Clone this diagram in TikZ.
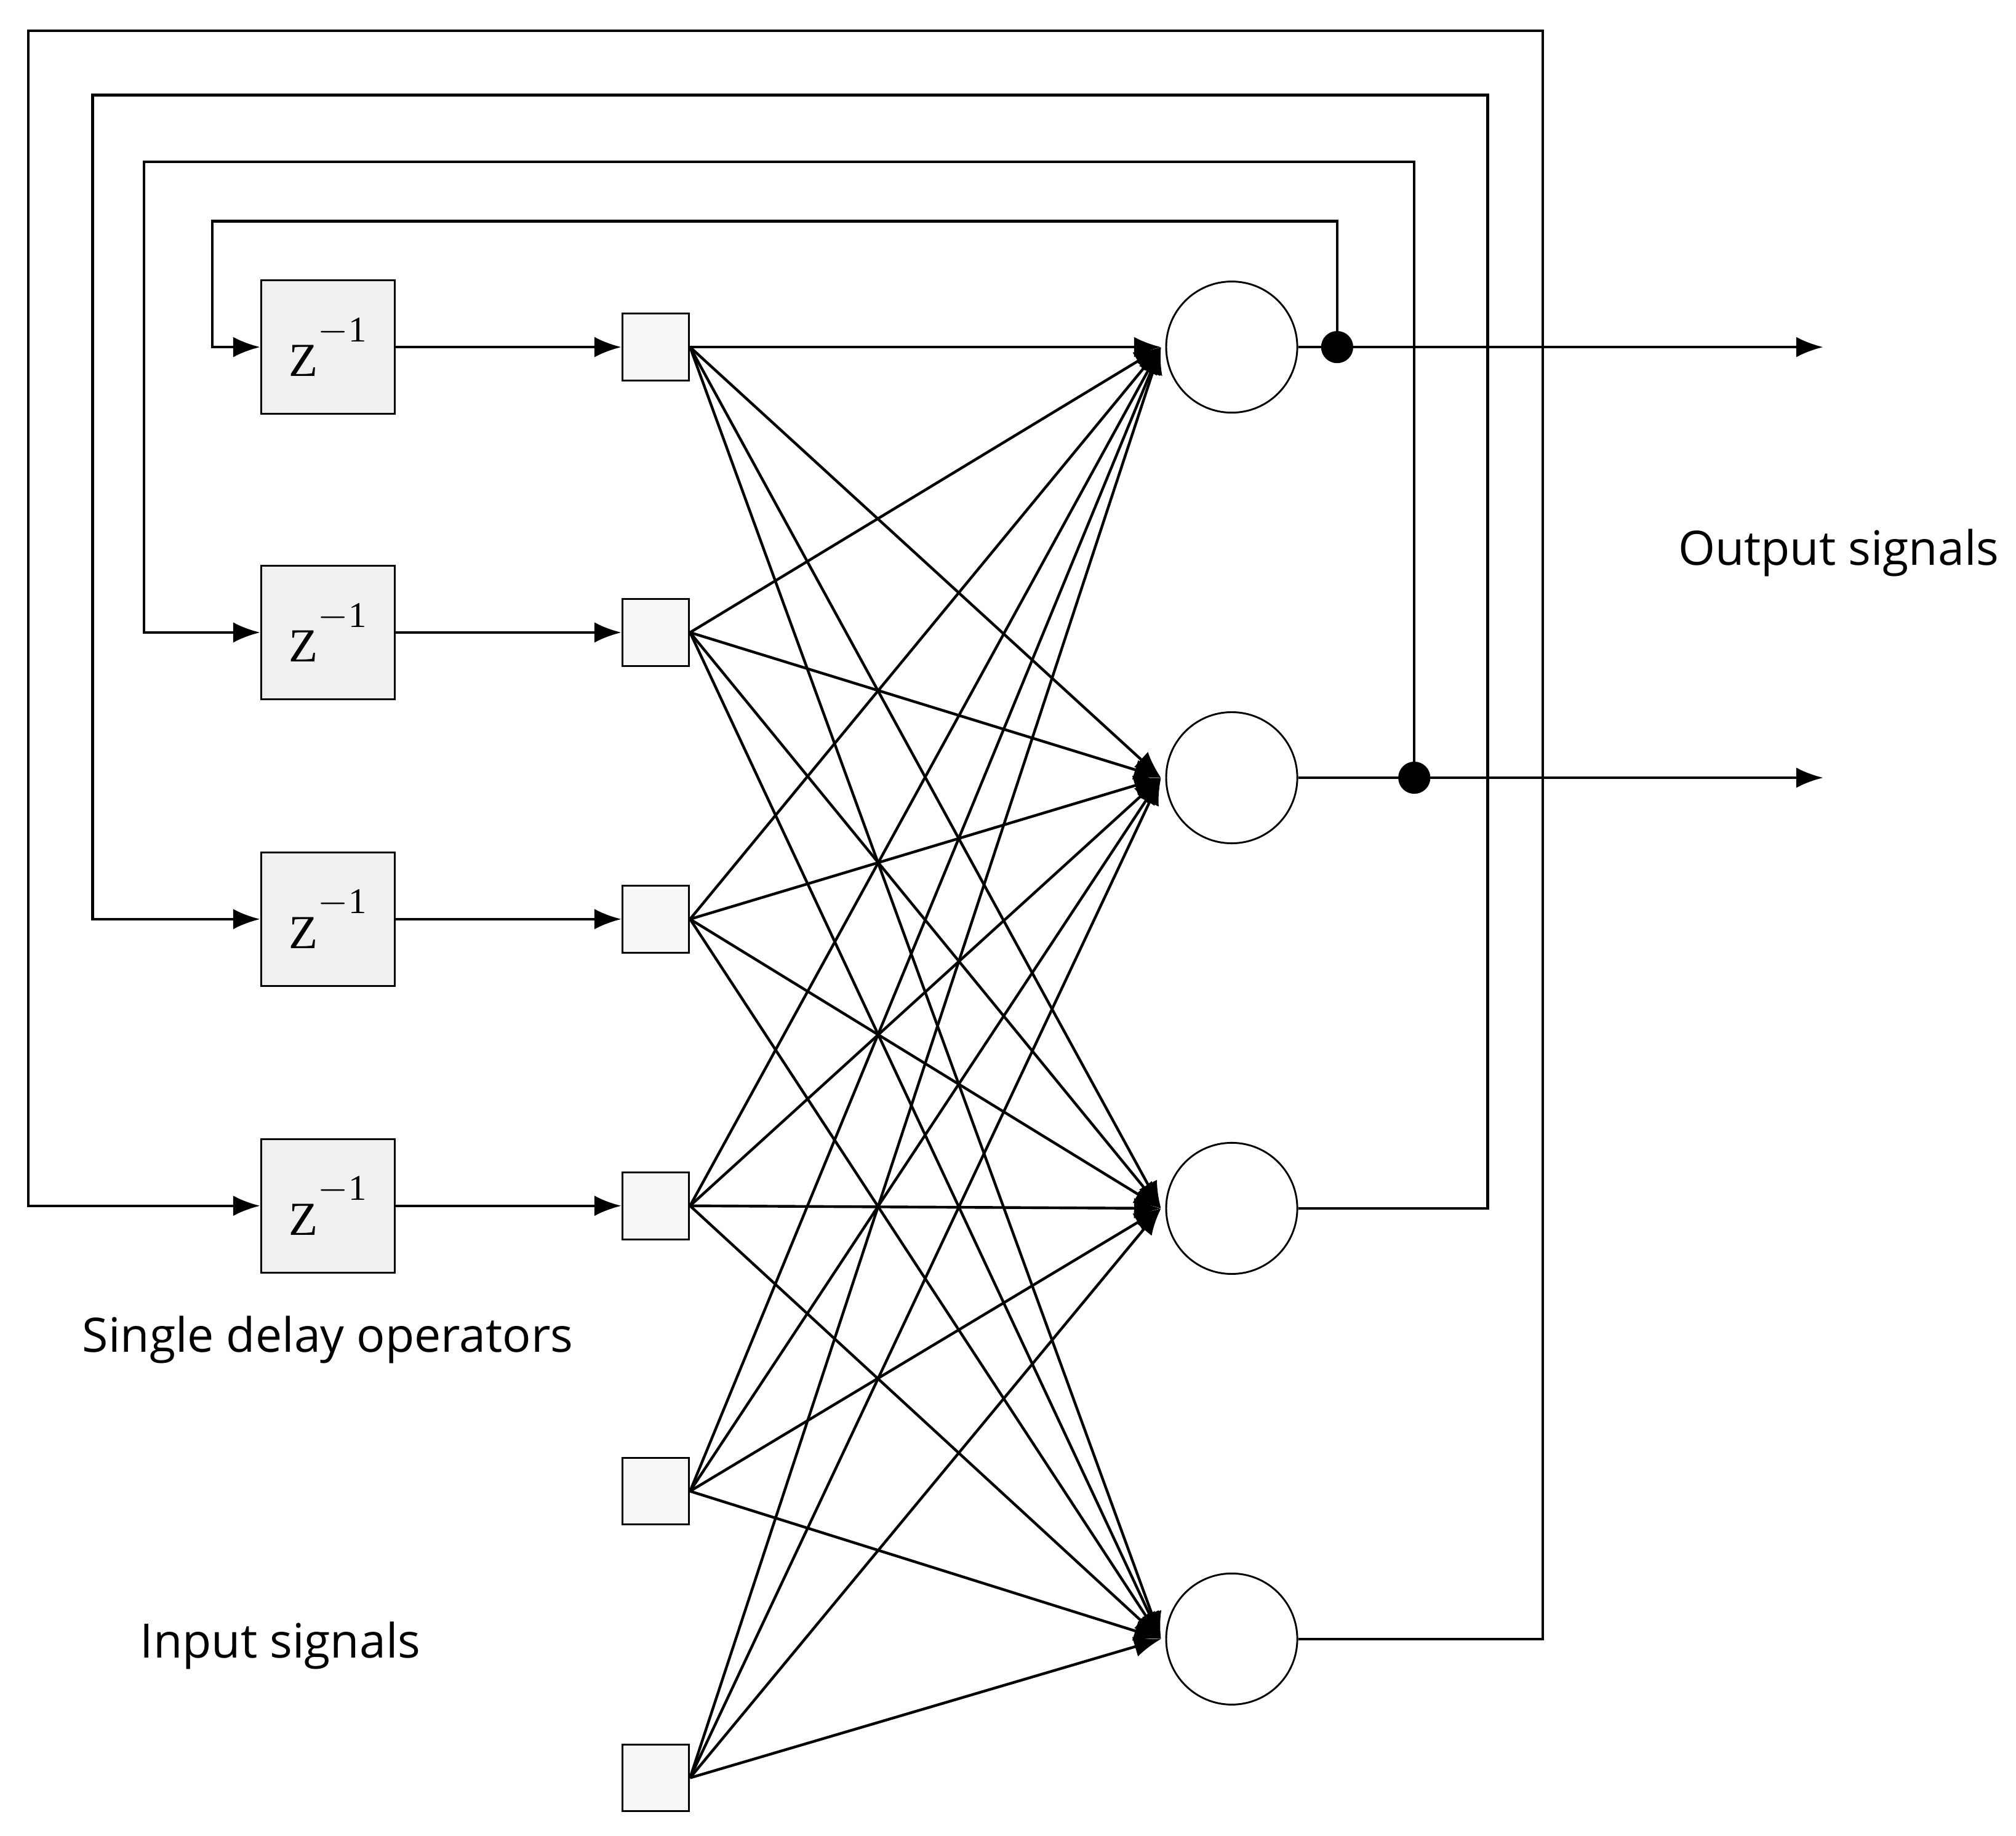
\documentclass[tikz,border=0pt]{standalone}
\usepackage{fontspec}
\setmainfont{Open Sans}
\newfontfamily\zserif{Liberation Serif}
\usetikzlibrary{arrows.meta}
\begin{document}
\begin{tikzpicture}[x=0.2mm,y=-0.2mm,
  line width=1.2pt,
  arr/.style={-{Latex[length=4.2mm,width=3.2mm]}},
  delay/.style={draw,line width=0.8pt,fill=black!6,minimum width=20.8mm,minimum height=20.8mm,inner sep=0pt},
  inp/.style={draw,line width=0.8pt,fill=black!3,minimum width=10.4mm,minimum height=10.4mm,inner sep=0pt},
  neu/.style={draw,line width=0.8pt,circle,minimum size=20.4mm,inner sep=0pt},
  dot/.style={circle,fill,minimum size=5mm,inner sep=0pt},
  lbl/.style={font=\fontsize{21}{25}\selectfont}]
\useasboundingbox (0,0) rectangle (1568,1428);
\foreach \i/\y in {1/270,2/492,3/715,4/938}{
  \node[delay] (d\i) at (255,\y) {\fontsize{21}{25}\zserif Z\raisebox{1.6ex}{\fontsize{16}{18}\selectfont $-$1}};
}
\foreach \i/\y in {1/270,2/492,3/715,4/938,5/1160,6/1383}{
  \node[inp] (x\i) at (510,\y) {};
}
\foreach \i/\y in {1/270,2/605,3/940,4/1275}{
  \node[neu] (n\i) at (958,\y) {};
  \coordinate (t\i) at (903,\y);
}
\foreach \i in {1,...,4}{ \draw[arr] (d\i) -- (x\i.west); }
\foreach \i in {1,...,6}{ \foreach \j in {1,...,4}{ \draw[arr] (x\i.east) -- (t\j); } }
\node[dot] (p1) at (1040,270) {};
\node[dot] (p2) at (1100,605) {};
\coordinate (o1) at (1418,270);
\coordinate (o2) at (1418,605);
\draw[arr] (n1) -- (o1);
\draw[arr] (n2) -- (o2);
\draw[arr] (p1.center) -- (1040,172) -- (165,172) -- (165,270) -- (d1.west);
\draw[arr] (p2.center) -- (1100,126) -- (112,126) -- (112,492) -- (d2.west);
\draw[arr] (n3.east) -- (1157,940) -- (1157,74) -- (72,74) -- (72,715) -- (d3.west);
\draw[arr] (n4.east) -- (1200,1275) -- (1200,24) -- (22,24) -- (22,938) -- (d4.west);
\node[lbl] (lo) at (1430,430) {Output signals};
\node[lbl] (ld) at (255,1042) {Single delay operators};
\node[lbl] (li) at (218,1280) {Input signals};
\end{tikzpicture}
\end{document}
